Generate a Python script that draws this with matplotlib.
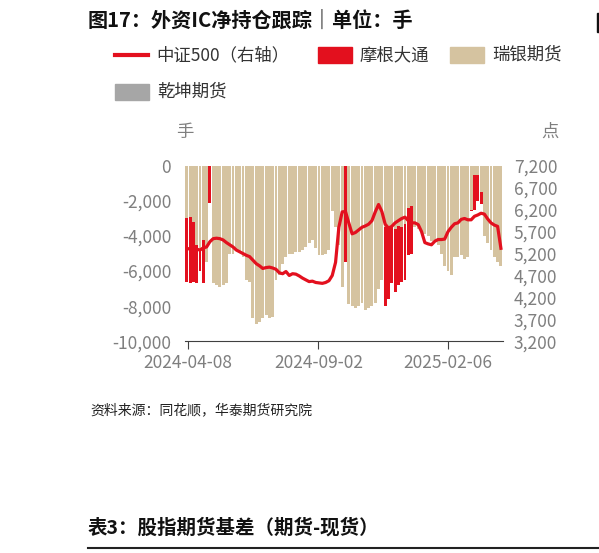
import matplotlib
matplotlib.use("Agg")
import matplotlib.pyplot as plt
from matplotlib.patches import Rectangle
from matplotlib.lines import Line2D

plt.rcParams['font.family'] = ['Noto Sans CJK SC', 'DejaVu Sans']

ruiyin = [-3000,-2900,-3200,-4500,-4800,-4200,-5500,0,-6700,-6800,-6900,-6800,-6700,-5000,-5000,-4800,-4900,-5200,-6500,-6600,
          -8700,-9000,-8900,-8700,-8500,-8700,-8600,-6500,-6200,-5600,-5200,-5000,-5000,-4900,-4900,-4800,-4600,-4400,-4200,-4700,
          -5100,-5100,-5000,-4800,-2600,-3500,-4500,-6900,0,-7900,-8000,-8100,-8000,-7800,-8200,-8100,-8000,-7800,-7000,-6500,
          -3500,-3400,-3400,-3600,-3400,-3500,-3300,-2400,-2300,-3500,-3600,-3700,-3900,-4000,-4300,-4200,-4500,-5000,-5700,-6000,
          -6200,-5200,-5200,-5100,-5300,-5200,-2500,-500,-500,-1500,-4000,-4400,-4800,-5200,-5500,-5700]
morgan = [-6600,-6700,-6600,-6700,-6000,-6700,-5000,-2100] + [0]*40 + [-5500] + [0]*11 + \
         [-8000,-7600,-6700,-7200,-6800,-6600,-6500,-5100,-5000] + [0]*17 + [-2600,-2500,-2000,-2200,-3500] + [0]*5
qiankun = [0]*96
csi500 = [5320,5300,5330,5300,5280,5330,5350,5470,5540,5550,5540,5510,5450,5400,5350,5280,5240,5200,5160,5130,
          5050,4970,4920,4860,4880,4890,4870,4840,4760,4740,4790,4700,4740,4730,4690,4640,4600,4560,4570,4540,
          4530,4520,4540,4580,4700,5000,5800,6150,6160,5900,5650,5680,5740,5800,5830,5870,5950,6150,6320,6160,
          5870,5780,5820,5900,5950,6000,6030,5950,5900,5900,5860,5700,5450,5420,5400,5480,5520,5520,5530,5700,
          5800,5880,5900,5980,6000,5970,5970,6050,6080,6120,6100,5990,5900,5850,5820,5320]
tick_pos = [0.3, 39.8, 79.0]
tick_labels = ['2024-04-08', '2024-09-02', '2025-02-06']
left_ticks = [0, -2000, -4000, -6000, -8000, -10000]
right_ticks = [3200, 3700, 4200, 4700, 5200, 5700, 6200, 6700, 7200]

RED = '#E3101E'; TAN = '#D5C3A0'; GRAY = '#A6A6A6'; TXT = '#7F7F7F'

fig = plt.figure(figsize=(5.99, 5.53), dpi=100)
ax = fig.add_axes([0.309, 0.383, 0.530, 0.317])
x = list(range(len(ruiyin)))
ax.bar(x, morgan, width=0.88, color=RED, zorder=2)
ax.bar(x, ruiyin, width=0.88, color=TAN, zorder=3)
ax.bar(x, qiankun, width=0.88, color=GRAY, zorder=3)
ax.set_ylim(-10000, 0)
ax.set_xlim(-0.5, 95.5)
ax.set_yticks(left_ticks)
ax.set_yticklabels([f'{v:,}' for v in left_ticks])
for s in ['top', 'right', 'left']:
    ax.spines[s].set_visible(False)
ax.spines['bottom'].set_color('#404040')
ax.set_xticks(tick_pos)
ax.set_xticklabels(tick_labels)
ax.tick_params(axis='x', colors='#404040', length=6, labelcolor=TXT, labelsize=12.5, pad=3)
ax.tick_params(axis='y', length=0, labelcolor=TXT, labelsize=12.5, pad=10)

ax2 = ax.twinx()
ax2.plot(x, csi500, color=RED, lw=2.3, zorder=5)
ax2.set_ylim(3200, 7200)
ax2.set_yticks(right_ticks)
ax2.set_yticklabels([f'{v:,}' for v in right_ticks])
for s in ['top', 'right', 'left', 'bottom']:
    ax2.spines[s].set_visible(False)
ax2.tick_params(axis='y', length=0, labelcolor=TXT, labelsize=12.5, pad=8)

W, H = 599, 553
def T(px, py, s, **kw):
    fig.text(px / W, 1 - py / H, s, **kw)

T(88, 20, '图17：外资IC净持仓跟踪｜单位：手', fontsize=14.5, fontweight='bold', va='center', color='#111111')
fig.add_artist(Line2D([115/W, 148/W], [1-55/H, 1-55/H], color=RED, lw=3))
T(156, 55, '中证500（右轴）', fontsize=12.5, va='center', color='#333333')
fig.add_artist(Rectangle((318/W, 1-63/H), 34/W, 16/H, color=RED))
T(360, 55, '摩根大通', fontsize=12.5, va='center', color='#333333')
fig.add_artist(Rectangle((450/W, 1-63/H), 34/W, 16/H, color=TAN))
T(492, 55, '瑞银期货', fontsize=12.5, va='center', color='#333333')
fig.add_artist(Rectangle((115/W, 1-100/H), 34/W, 16/H, color=GRAY))
T(157, 92, '乾坤期货', fontsize=12.5, va='center', color='#333333')
T(185, 132, '手', fontsize=12.5, va='center', ha='center', color=TXT)
T(550, 132, '点', fontsize=12.5, va='center', ha='center', color=TXT)
T(90, 410, '资料来源：同花顺，华泰期货研究院', fontsize=10, va='center', style='italic', color='#222222')
T(88, 528, '表3：股指期货基差（期货-现货）', fontsize=14, fontweight='bold', va='center', color='#111111')
fig.add_artist(Rectangle((597/W, 1-32/H), 2/W, 19/H, color='#111111'))
fig.add_artist(Line2D([88/W, 1], [1-548/H, 1-548/H], color='#222222', lw=1.5))

fig.savefig('out.png', dpi=100)
